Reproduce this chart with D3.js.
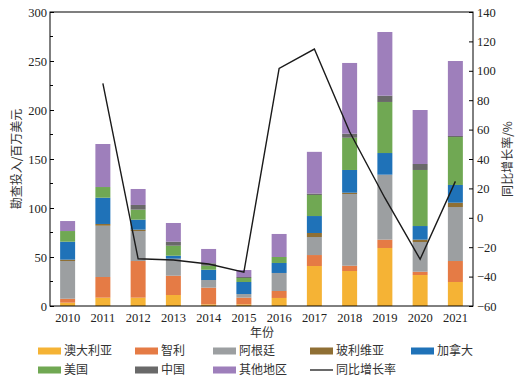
<!DOCTYPE html>
<html><head><meta charset="utf-8">
<script src="https://cdn.jsdelivr.net/npm/d3@7"></script>
<style>
body{margin:0;background:#fff;}
svg{display:block;}
</style></head>
<body>
<svg id="c" width="527" height="379"></svg>
<script>
const years = ["2010","2011","2012","2013","2014","2015","2016","2017","2018","2019","2020","2021"];
const seriesNames = ["澳大利亚","智利","阿根廷","玻利维亚","加拿大","美国","中国","其他地区"];
const australia = [3.4, 8.5, 8.5, 11.2, 1.7, 1.7, 8.2, 40.8, 35.7, 59.2, 31.6, 24.5];
const chile     = [4.0, 21.1, 37.4, 19.7, 17.0, 6.8, 7.1, 11.2, 5.4, 8.5, 3.4, 21.4];
const argentina = [38.5, 52.3, 30.6, 17.1, 7.8, 3.7, 18.4, 18.4, 73.2, 66.3, 30.3, 55.1];
const bolivia   = [1.4, 1.8, 1.4, 0.3, 0, 0, 0, 4.1, 1.3, 0, 2.4, 4.4];
const canada    = [18.3, 26.8, 10.2, 3.0, 10.5, 12.3, 10.2, 17.3, 23.2, 22.1, 13.9, 18.1];
const usa       = [10.9, 10.9, 10.2, 10.2, 4.1, 4.1, 6.1, 21.5, 32.9, 52.1, 57.2, 48.9];
const china     = [0, 0, 4.8, 4.1, 2.5, 1.0, 0, 1.5, 4.1, 6.4, 6.1, 1.1];
const others    = [10.2, 43.9, 16.3, 19.1, 14.6, 7.1, 23.5, 42.5, 72.2, 65.0, 55.1, 76.5];
const growth    = [null, 91.4, -27.9, -28.7, -31.4, -37.0, 101.6, 114.8, 58.5, 13.5, -28.2, 24.8];
const leftTicks = [0, 50, 100, 150, 200, 250, 300];
const rightTicks = [-60, -40, -20, 0, 20, 40, 60, 80, 100, 120, 140];
const lineName = "同比增长率";
const colors = ["#f5b335","#e57b45","#9c9fa1","#8f6f34","#1f72b8","#70a853","#696969","#9e7fbb"];

const seriesValues = [australia, chile, argentina, bolivia, canada, usa, china, others];
const table = years.map((y, i) => {
  const o = {year: y};
  seriesNames.forEach((n, k) => o[n] = seriesValues[k][i]);
  return o;
});

const svg = d3.select("#c");
const L = 50, R = 473, T = 12, B = 306;
const serif = "'Liberation Serif','Times New Roman',serif";
const cjk = "'Noto Sans CJK SC','Noto Sans',sans-serif";

const x = d3.scaleBand().domain(years).range([L, R]).paddingInner(0.575).paddingOuter(0.2875);
const y = d3.scaleLinear().domain([0, 300]).range([B, T]);
const y2 = d3.scaleLinear().domain([-60, 140]).range([B, T]);

const stack = d3.stack().keys(seriesNames)(table);
svg.append("g").selectAll("g").data(stack).join("g")
  .attr("fill", (d, i) => colors[i])
  .selectAll("rect").data(d => d).join("rect")
  .attr("x", d => x(d.data.year))
  .attr("width", x.bandwidth())
  .attr("y", d => y(d[1]))
  .attr("height", d => Math.max(0, y(d[0]) - y(d[1])));

// line
const pts = years.map((yr, i) => ({yr, v: growth[i]})).filter(d => d.v !== null);
svg.append("path").datum(pts)
  .attr("fill", "none").attr("stroke", "#1a1a1a").attr("stroke-width", 1.4)
  .attr("d", d3.line().x(d => x(d.yr) + x.bandwidth()/2).y(d => y2(d.v)));

// frame
svg.append("rect").attr("x", L).attr("y", T).attr("width", R - L).attr("height", B - T)
  .attr("fill", "none").attr("stroke", "#000").attr("stroke-width", 1);

// left axis
const la = svg.append("g").attr("transform", `translate(${L},0)`)
  .call(d3.axisLeft(y).tickValues(leftTicks).tickSizeInner(-4).tickSizeOuter(0).tickPadding(3));
la.select(".domain").remove();
la.selectAll("text").attr("font-family", serif).attr("font-size", 12.5).attr("fill", "#222");
la.selectAll(".tick line").attr("stroke", "#000");
la.selectAll(".tick text").attr("x", -3);
const minor = d3.range(25, 300, 50);
svg.append("g").selectAll("line").data(minor).join("line")
  .attr("x1", L).attr("x2", L + 3).attr("y1", d => y(d)).attr("y2", d => y(d))
  .attr("stroke", "#000");

// right axis
const ra = svg.append("g").attr("transform", `translate(${R},0)`)
  .call(d3.axisRight(y2).tickValues(rightTicks).tickSizeInner(-4).tickSizeOuter(0).tickFormat(d => d < 0 ? "\u2212" + Math.abs(d) : d));
ra.select(".domain").remove();
ra.selectAll("text").attr("font-family", serif).attr("font-size", 12.5).attr("fill", "#222").attr("x", 4);
ra.selectAll(".tick line").attr("stroke", "#000");

// bottom axis labels
const ba = svg.append("g").attr("transform", `translate(0,${B})`)
  .call(d3.axisBottom(x).tickSize(0).tickPadding(7));
ba.select(".domain").remove();
ba.selectAll("text").attr("font-family", serif).attr("font-size", 12.5).attr("fill", "#222");

// axis titles
svg.append("text").attr("x", 262).attr("y", 337).attr("text-anchor", "middle")
  .attr("font-family", cjk).attr("font-size", 12).attr("fill", "#333").text("年份");
svg.append("text").attr("transform", "translate(21,159) rotate(-90)").attr("text-anchor", "middle")
  .attr("font-family", cjk).attr("font-size", 12).attr("fill", "#333").text("勘查投入/百万美元");
svg.append("text").attr("transform", "translate(512,159) rotate(-90)").attr("text-anchor", "middle")
  .attr("font-family", cjk).attr("font-size", 12).attr("fill", "#333").text("同比增长率/%");

// legend
const legItems = seriesNames.map((n, i) => ({name: n, color: colors[i], type: "rect"}))
  .concat([{name: lineName, color: "#1a1a1a", type: "line"}]);
const colX = [38, 135, 213, 310, 411];
const rowY = [351, 370];
const lg = svg.append("g");
legItems.forEach((d, i) => {
  const cx = colX[i % 5], cy = rowY[Math.floor(i / 5)];
  if (d.type === "rect") {
    lg.append("rect").attr("x", cx).attr("y", cy - 3.5).attr("width", 23).attr("height", 7).attr("fill", d.color);
  } else {
    lg.append("line").attr("x1", cx).attr("x2", cx + 23).attr("y1", cy).attr("y2", cy)
      .attr("stroke", d.color).attr("stroke-width", 1.3);
  }
  lg.append("text").attr("x", cx + 26).attr("y", cy).attr("dy", "0.36em")
    .attr("font-family", cjk).attr("font-size", 12).attr("fill", "#333").text(d.name);
});
</script>
</body></html>
